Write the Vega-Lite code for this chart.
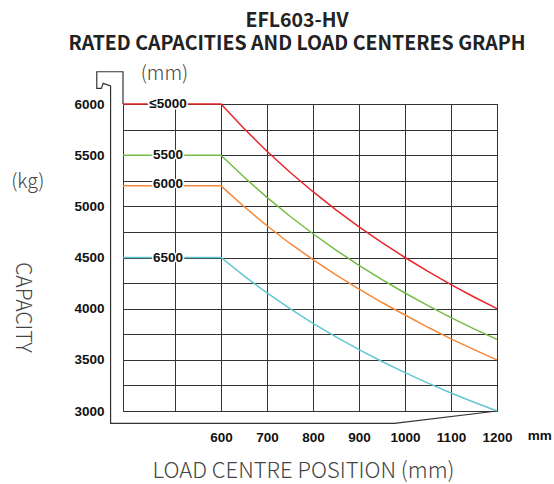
{
  "$schema": "https://vega.github.io/schema/vega-lite/v6.json",
  "autosize": {"type": "none"},
  "padding": {"left": 123, "top": 104, "right": 57, "bottom": 73},
  "width": 374,
  "height": 307,
  "background": "white",
  "title": {
    "text": ["EFL603-HV", "RATED CAPACITIES AND LOAD CENTERES GRAPH"],
    "font": "Noto Sans CJK SC",
    "fontSize": 19.5,
    "fontWeight": "bold",
    "color": "#222",
    "lineHeight": 23,
    "anchor": "middle",
    "frame": "group",
    "dx": -13,
    "offset": 10
  },
  "config": {
    "view": {"stroke": "#333", "strokeWidth": 1}
  },
  "datasets": {
    "curves": [
      {"s": "≤5000", "x": 387, "y": 6000}, {"s": "≤5000", "x": 600, "y": 6000}, {"s": "≤5000", "x": 650, "y": 5760}, {"s": "≤5000", "x": 700, "y": 5538}, {"s": "≤5000", "x": 750, "y": 5333}, {"s": "≤5000", "x": 800, "y": 5143}, {"s": "≤5000", "x": 850, "y": 4966}, {"s": "≤5000", "x": 900, "y": 4800}, {"s": "≤5000", "x": 950, "y": 4645}, {"s": "≤5000", "x": 1000, "y": 4500}, {"s": "≤5000", "x": 1050, "y": 4364}, {"s": "≤5000", "x": 1100, "y": 4235}, {"s": "≤5000", "x": 1150, "y": 4114}, {"s": "≤5000", "x": 1200, "y": 4000},
      {"s": "5500", "x": 387, "y": 5500}, {"s": "5500", "x": 600, "y": 5500}, {"s": "5500", "x": 650, "y": 5286}, {"s": "5500", "x": 700, "y": 5087}, {"s": "5500", "x": 750, "y": 4903}, {"s": "5500", "x": 800, "y": 4732}, {"s": "5500", "x": 850, "y": 4573}, {"s": "5500", "x": 900, "y": 4424}, {"s": "5500", "x": 950, "y": 4284}, {"s": "5500", "x": 1000, "y": 4153}, {"s": "5500", "x": 1050, "y": 4029}, {"s": "5500", "x": 1100, "y": 3913}, {"s": "5500", "x": 1150, "y": 3803}, {"s": "5500", "x": 1200, "y": 3700},
      {"s": "6000", "x": 387, "y": 5200}, {"s": "6000", "x": 600, "y": 5200}, {"s": "6000", "x": 650, "y": 4998}, {"s": "6000", "x": 700, "y": 4810}, {"s": "6000", "x": 750, "y": 4637}, {"s": "6000", "x": 800, "y": 4480}, {"s": "6000", "x": 850, "y": 4330}, {"s": "6000", "x": 900, "y": 4190}, {"s": "6000", "x": 950, "y": 4060}, {"s": "6000", "x": 1000, "y": 3938}, {"s": "6000", "x": 1050, "y": 3818}, {"s": "6000", "x": 1100, "y": 3705}, {"s": "6000", "x": 1150, "y": 3600}, {"s": "6000", "x": 1200, "y": 3500},
      {"s": "6500", "x": 387, "y": 4500}, {"s": "6500", "x": 600, "y": 4500}, {"s": "6500", "x": 650, "y": 4320}, {"s": "6500", "x": 700, "y": 4154}, {"s": "6500", "x": 750, "y": 4000}, {"s": "6500", "x": 800, "y": 3857}, {"s": "6500", "x": 850, "y": 3724}, {"s": "6500", "x": 900, "y": 3600}, {"s": "6500", "x": 950, "y": 3484}, {"s": "6500", "x": 1000, "y": 3375}, {"s": "6500", "x": 1050, "y": 3273}, {"s": "6500", "x": 1100, "y": 3176}, {"s": "6500", "x": 1150, "y": 3086}, {"s": "6500", "x": 1200, "y": 3000}
    ],
    "labels": [
      {"s": "≤5000", "x": 485, "y": 6000},
      {"s": "5500", "x": 485, "y": 5500},
      {"s": "6000", "x": 485, "y": 5215},
      {"s": "6500", "x": 485, "y": 4500}
    ],
    "frame": [
      {"i": 1, "x": 1200, "y": 3000},
      {"i": 2, "x": 977, "y": 2880},
      {"i": 3, "x": 360, "y": 2880},
      {"i": 4, "x": 360, "y": 6176},
      {"i": 5, "x": 344, "y": 6202},
      {"i": 6, "x": 340, "y": 6153},
      {"i": 7, "x": 330, "y": 6153},
      {"i": 8, "x": 330, "y": 6315},
      {"i": 9, "x": 387, "y": 6315},
      {"i": 10, "x": 387, "y": 6000}
    ],
    "lightnotes": [
      {"t": "(kg)", "x": 180, "y": 5235},
      {"t": "(mm)", "x": 477, "y": 6293}
    ],
    "boldnotes": [
      {"t": "mm", "x": 1293, "y": 2758}
    ]
  },
  "encoding": {
    "x": {
      "field": "x",
      "type": "quantitative",
      "scale": {"domain": [387, 1200], "zero": false, "nice": false},
      "axis": {
        "values": [500, 600, 700, 800, 900, 1000, 1100, 1200],
        "labelExpr": "datum.value < 600 ? '' : datum.label",
        "format": "d",
        "grid": true,
        "gridColor": "#333",
        "gridOpacity": 1,
        "gridWidth": 1,
        "domain": false,
        "ticks": false,
        "labelFlush": false,
        "labelOverlap": false,
        "labelPadding": 19,
        "labelFont": "Liberation Sans",
        "labelFontWeight": "bold",
        "labelFontSize": 13.5,
        "labelColor": "#111",
        "title": "LOAD CENTRE POSITION (mm)",
        "titleFont": "Noto Sans CJK SC",
        "titleFontWeight": 300,
        "titleFontSize": 22,
        "titleColor": "#444",
        "titleX": 180,
        "titleY": 59,
        "titleAlign": "center",
        "titleBaseline": "middle"
      }
    },
    "y": {
      "field": "y",
      "type": "quantitative",
      "scale": {"domain": [3000, 6000], "zero": false, "nice": false},
      "axis": {
        "values": [3000, 3250, 3500, 3750, 4000, 4250, 4500, 4750, 5000, 5250, 5500, 5750, 6000],
        "labelExpr": "datum.value % 500 == 0 ? datum.label : ''",
        "format": "d",
        "grid": true,
        "gridColor": "#333",
        "gridOpacity": 1,
        "gridWidth": 1,
        "domain": false,
        "ticks": false,
        "labelOverlap": false,
        "labelFlush": false,
        "labelPadding": 19,
        "labelFont": "Liberation Sans",
        "labelFontWeight": "bold",
        "labelFontSize": 13.5,
        "labelColor": "#111",
        "title": "CAPACITY",
        "titleFont": "Noto Sans CJK SC",
        "titleFontWeight": 300,
        "titleFontSize": 21,
        "titleColor": "#444",
        "titleAngle": 90,
        "titleX": -102,
        "titleY": 203,
        "titleAlign": "center",
        "titleBaseline": "middle"
      }
    }
  },
  "layer": [
    {
      "data": {"name": "frame"},
      "mark": {"type": "line", "color": "#333", "strokeWidth": 1.2, "clip": false},
      "encoding": {"order": {"field": "i", "type": "quantitative"}}
    },
    {
      "data": {"name": "curves"},
      "mark": {"type": "line", "strokeWidth": 1.5},
      "encoding": {
        "color": {
          "field": "s",
          "type": "nominal",
          "scale": {"domain": ["≤5000", "5500", "6000", "6500"], "range": ["#e8262b", "#74bd44", "#f5883a", "#62c7d3"]},
          "legend": null
        }
      }
    },
    {
      "data": {"name": "labels"},
      "mark": {"type": "text", "font": "Liberation Sans", "fontWeight": "bold", "fontSize": 13.5, "stroke": "white", "strokeWidth": 3, "fill": "white", "baseline": "middle", "align": "center"},
      "encoding": {"text": {"field": "s"}}
    },
    {
      "data": {"name": "labels"},
      "mark": {"type": "text", "font": "Liberation Sans", "fontWeight": "bold", "fontSize": 13.5, "color": "#111", "baseline": "middle", "align": "center"},
      "encoding": {"text": {"field": "s"}}
    },
    {
      "data": {"name": "lightnotes"},
      "mark": {"type": "text", "font": "Noto Sans CJK SC", "fontWeight": 300, "fontSize": 19.5, "color": "#444", "baseline": "middle", "align": "center", "clip": false},
      "encoding": {"text": {"field": "t"}}
    },
    {
      "data": {"name": "boldnotes"},
      "mark": {"type": "text", "font": "Liberation Sans", "fontWeight": "bold", "fontSize": 13.5, "color": "#111", "baseline": "middle", "align": "center", "clip": false},
      "encoding": {"text": {"field": "t"}}
    }
  ]
}
